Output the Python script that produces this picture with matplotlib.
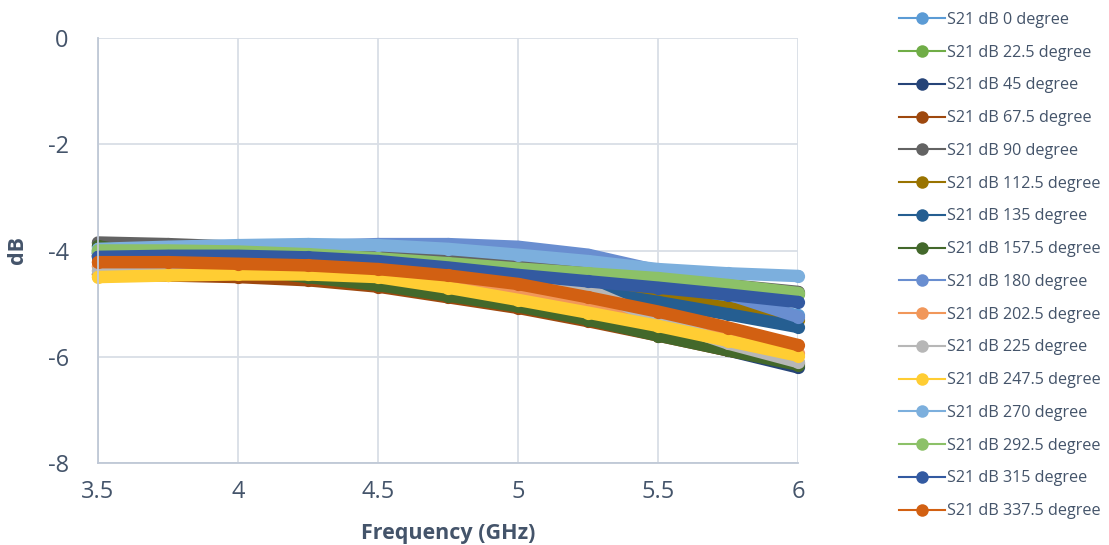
import matplotlib
matplotlib.use("Agg")
import matplotlib.pyplot as plt
from matplotlib.lines import Line2D

freq = [3.5, 3.75, 4.0, 4.25, 4.5, 4.75, 5.0, 5.25, 5.5, 5.75, 6.0]

s21_0 = [-4.00, -3.98, -3.95, -3.95, -3.98, -4.05, -4.15, -4.32, -4.55, -4.97, -5.22]
s21_22_5 = [-4.02, -4.02, -4.04, -4.09, -4.17, -4.26, -4.36, -4.45, -4.54, -4.67, -4.82]
s21_45 = [-4.10, -4.18, -4.28, -4.42, -4.60, -4.80, -5.02, -5.28, -5.57, -5.88, -6.20]
s21_67_5 = [-4.45, -4.47, -4.50, -4.56, -4.68, -4.88, -5.08, -5.33, -5.60, -5.88, -6.12]
s21_90 = [-3.85, -3.88, -3.93, -4.00, -4.08, -4.18, -4.30, -4.42, -4.53, -4.65, -4.78]
s21_112_5 = [-4.10, -4.10, -4.12, -4.18, -4.28, -4.42, -4.58, -4.72, -4.88, -5.08, -5.30]
s21_135 = [-4.05, -4.05, -4.08, -4.15, -4.25, -4.40, -4.57, -4.76, -4.97, -5.20, -5.44]
s21_157_5 = [-3.92, -4.15, -4.35, -4.50, -4.65, -4.85, -5.05, -5.30, -5.60, -5.88, -6.15]
s21_180 = [-4.05, -4.00, -3.95, -3.92, -3.88, -3.88, -3.93, -4.08, -4.38, -4.82, -5.25]
s21_202_5 = [-4.30, -4.30, -4.32, -4.38, -4.47, -4.60, -4.78, -5.03, -5.30, -5.60, -5.92]
s21_225 = [-4.38, -4.35, -4.30, -4.25, -4.30, -4.45, -4.60, -4.74, -5.30, -5.75, -6.10]
s21_247_5 = [-4.50, -4.47, -4.45, -4.45, -4.50, -4.70, -4.93, -5.17, -5.42, -5.70, -5.98]
s21_270 = [-3.97, -3.93, -3.90, -3.88, -3.90, -3.97, -4.08, -4.20, -4.35, -4.43, -4.48]
s21_292_5 = [-4.00, -4.00, -4.02, -4.07, -4.15, -4.24, -4.34, -4.43, -4.52, -4.65, -4.80]
s21_315 = [-4.12, -4.10, -4.10, -4.13, -4.20, -4.32, -4.46, -4.58, -4.70, -4.83, -4.97]
s21_337_5 = [-4.22, -4.22, -4.25, -4.28, -4.35, -4.47, -4.63, -4.88, -5.15, -5.45, -5.78]

series = [
    ("S21 dB 0 degree", s21_0, "#5B9BD5"),
    ("S21 dB 22.5 degree", s21_22_5, "#70AD47"),
    ("S21 dB 45 degree", s21_45, "#264478"),
    ("S21 dB 67.5 degree", s21_67_5, "#9E480E"),
    ("S21 dB 90 degree", s21_90, "#636363"),
    ("S21 dB 112.5 degree", s21_112_5, "#997300"),
    ("S21 dB 135 degree", s21_135, "#255E91"),
    ("S21 dB 157.5 degree", s21_157_5, "#43682B"),
    ("S21 dB 180 degree", s21_180, "#698ED0"),
    ("S21 dB 202.5 degree", s21_202_5, "#F1975A"),
    ("S21 dB 225 degree", s21_225, "#B7B7B7"),
    ("S21 dB 247.5 degree", s21_247_5, "#FFCD33"),
    ("S21 dB 270 degree", s21_270, "#7CAFDD"),
    ("S21 dB 292.5 degree", s21_292_5, "#8CC168"),
    ("S21 dB 315 degree", s21_315, "#335AA1"),
    ("S21 dB 337.5 degree", s21_337_5, "#D26012"),
]

x_ticks = [3.5, 4, 4.5, 5, 5.5, 6]
x_tick_labels = ["3.5", "4", "4.5", "5", "5.5", "6"]
y_ticks = [0, -2, -4, -6, -8]
y_tick_labels = ["0", "-2", "-4", "-6", "-8"]

plt.rcParams['font.family'] = ['Open Sans', 'DejaVu Sans']
text_color = "#44546A"
grid_color = "#D9DEE6"

fig = plt.figure(figsize=(11.09, 5.45), dpi=100)
ax = fig.add_axes([98 / 1109, 1 - 463 / 545, 700 / 1109, 425 / 545])

handles = []
for i, (label, vals, color) in enumerate(series):
    ax.plot(freq, vals, color=color, lw=9, solid_capstyle='round',
            solid_joinstyle='round', marker='o', markersize=9.5,
            markeredgewidth=0, zorder=2 + i * 0.01, clip_on=False)
    handles.append(Line2D([0], [0], color=color, lw=1.5, marker='o',
                          markersize=9, markeredgewidth=0, label=label))

ax.set_xlim(3.5, 6)
ax.set_ylim(-8, 0)
ax.set_xticks(x_ticks)
ax.set_xticklabels(x_tick_labels)
ax.set_yticks(y_ticks)
ax.set_yticklabels(y_tick_labels)
ax.tick_params(axis='y', length=0, labelsize=17, labelcolor=text_color, pad=21)
ax.tick_params(axis='x', length=0, labelsize=17, labelcolor=text_color, pad=12)
ax.grid(True, color=grid_color, lw=1.3, zorder=0)
ax.set_axisbelow(True)
for side in ['top', 'right']:
    ax.spines[side].set_visible(False)
for side in ['left', 'bottom']:
    ax.spines[side].set_color("#BFC8D6")
    ax.spines[side].set_linewidth(1.3)

ax.set_xlabel("Frequency (GHz)", fontsize=15.5, fontweight='bold', color=text_color, labelpad=14)
ax.set_ylabel("dB", fontsize=15.5, fontweight='bold', color=text_color, labelpad=14)

leg = fig.legend(handles=handles, loc='upper left', bbox_to_anchor=(0.8045, 0.99),
                 frameon=False, fontsize=11.6, labelspacing=1.04, handlelength=2.85,
                 handletextpad=0.15, borderaxespad=0)
for t in leg.get_texts():
    t.set_color(text_color)

fig.savefig("out.png", dpi=100)
